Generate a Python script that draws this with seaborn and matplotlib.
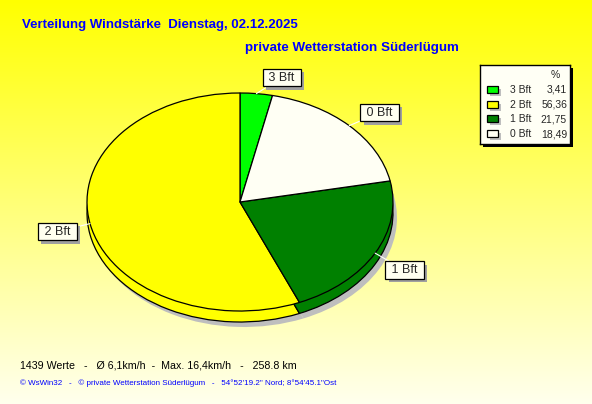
import numpy as np
import matplotlib.pyplot as plt
import seaborn as sns
import matplotlib.patheffects as pe
from matplotlib.patches import Rectangle

# Data
labels = ['3 Bft', '2 Bft', '1 Bft', '0 Bft']
percent = [3.41, 56.36, 21.75, 18.49]
percent_text = ['3,41', '56,36', '21,75', '18,49']
colors = ['#00FF00', '#FFFF00', '#008000', '#FFFFF4']

title = 'Verteilung Windstärke  Dienstag, 02.12.2025'
subtitle = 'private Wetterstation Süderlügum'
stats_line = '1439 Werte   -   Ø 6,1km/h  -  Max. 16,4km/h   -   258.8 km'
credit_line = '© WsWin32   -   © private Wetterstation Süderlügum   -   54°52\'19.2" Nord; 8°54\'45.1"Ost'

sns.set_style('white')
plt.rcParams['font.family'] = ['Liberation Sans', 'DejaVu Sans']

W, H = 592, 404
fig = plt.figure(figsize=(W / 100, H / 100), dpi=100)

# yellow gradient background
bg = fig.add_axes([0, 0, 1, 1], zorder=-10)
t = np.linspace(0, 1, 256)[:, None]
grad = np.dstack([np.ones_like(t), np.ones_like(t), 0.0 + 0.93 * t])
bg.imshow(grad, aspect='auto', extent=[0, 1, 0, 1])
bg.set_axis_off()

# pie axes: whole figure, data units scaled to ellipse radii
CX, CY, RX, RY = 240, 202, 153, 109
ax = fig.add_axes([0, 0, 1, 1])
ax.patch.set_alpha(0)
start = 90 - 360 * percent[0] / sum(percent)

# shadow, side (thickness) and top face
ax.pie(percent, colors=['#BEBEBE'] * len(percent), startangle=start,
       center=(4 / RX, -16 / RY), wedgeprops=dict(linewidth=0))
ax.pie(percent, colors=colors, startangle=start, center=(0, -11 / RY),
       wedgeprops=dict(edgecolor='black', linewidth=0.9))
wedges, _ = ax.pie(percent, colors=colors, startangle=start,
                   wedgeprops=dict(edgecolor='black', linewidth=0.9))

ax.set_aspect('auto')
ax.set_xlim((0 - CX) / RX, (W - CX) / RX)
ax.set_ylim((CY - H) / RY, CY / RY)
ax.set_axis_off()

# labels in boxes with leader lines (pixel offsets are layout only)
label_offsets = {'3 Bft': (9, 16), '0 Bft': (14, 13), '1 Bft': (13, -17), '2 Bft': (-16, -8)}
for w, lab in zip(wedges, labels):
    mid = np.deg2rad((w.theta1 + w.theta2) / 2)
    xy = (np.cos(mid), np.sin(mid))
    dx, dy = label_offsets[lab]
    ann = ax.annotate(' ' + lab + ' ', xy=xy, xytext=(dx, dy), textcoords='offset pixels',
                      ha='left' if dx > 0 else 'right', va='center', fontsize=9,
                      bbox=dict(boxstyle='square,pad=0.22', fc='#FFFFF0', ec='black', lw=0.9),
                      arrowprops=dict(arrowstyle='-', color='white', lw=0.8,
                                      shrinkA=0, shrinkB=0))
    ann.get_bbox_patch().set_path_effects(
        [pe.withSimplePatchShadow(offset=(2.3, -2.3), shadow_rgbFace='#A0A0A0', alpha=1)])

# legend box
lx, ly, lw_, lh = 480, 65, 90, 79
fig.patches.append(Rectangle(((lx + 3) / W, 1 - (ly + lh + 3) / H), lw_ / W, lh / H,
                             transform=fig.transFigure, fc='black', ec='none', zorder=1))
lax = fig.add_axes([lx / W, 1 - (ly + lh) / H, lw_ / W, lh / H], zorder=2)
lax.set_facecolor('#FFFFF5')
lax.set_xlim(0, lw_)
lax.set_ylim(lh, 0)
lax.set_xticks([])
lax.set_yticks([])
for s in lax.spines.values():
    s.set_color('black')
    s.set_linewidth(1)
lax.text(75, 10, '%', fontsize=7.5, ha='center', va='center')
for i, (lab, val, col) in enumerate(zip(labels, percent_text, colors)):
    y = 25 + i * 14.7
    lax.add_patch(Rectangle((10, y - 1), 11, 7, fc='#BEBEBE', ec='none'))
    lax.add_patch(Rectangle((7, y - 4), 11, 7, fc=col, ec='black', lw=0.9))
    lax.text(30, y, lab, fontsize=7.5, ha='left', va='center')
    lax.text(87, y, val, fontsize=7.5, ha='right', va='center')

# titles and footer
fig.text(22 / W, 1 - 25 / H, title, color='#0000FF', fontsize=9.5, fontweight='bold',
         ha='left', va='center')
fig.text(245 / W, 1 - 48 / H, subtitle, color='#0000FF', fontsize=9.6, fontweight='bold',
         ha='left', va='center')
fig.text(20 / W, 1 - 366 / H, stats_line, color='black', fontsize=7.7, ha='left', va='center')
fig.text(20 / W, 1 - 383 / H, credit_line, color='#0000FF', fontsize=5.8, ha='left', va='center')

fig.savefig('out.png', dpi=100)
